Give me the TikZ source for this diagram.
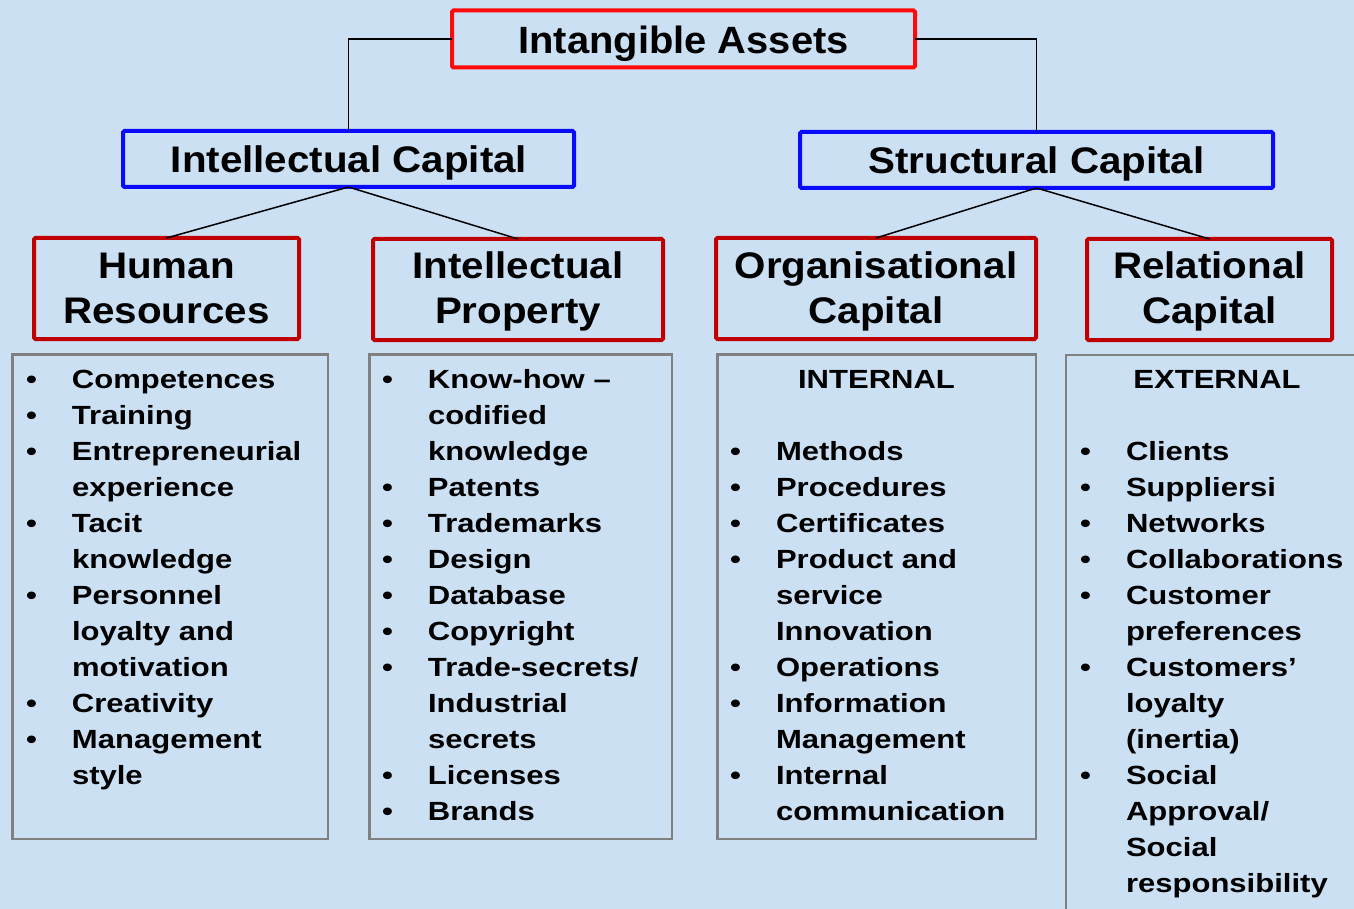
\documentclass[tikz,border=0pt]{standalone}
\usepackage{fontspec}
\setmainfont{Liberation Sans}
\newfontfamily\titlef[FakeStretch=1.05]{Liberation Sans}
\newfontfamily\headf[FakeStretch=1.09]{Liberation Sans}
\newfontfamily\listf[FakeStretch=1.18]{Liberation Sans}
\definecolor{bgblue}{RGB}{204,224,244}
\definecolor{topred}{RGB}{255,10,10}
\definecolor{darkred}{RGB}{192,0,0}
\definecolor{midblue}{RGB}{10,10,255}
\definecolor{boxgray}{RGB}{128,128,128}
\newcommand\bitem[1]{\textbullet&#1\\}
\newcommand\citem[1]{&#1\\}
\tikzset{
  redtop/.style={draw=topred,line width=4pt,rounded corners=1.5pt},
  bluebox/.style={draw=midblue,line width=4pt,rounded corners=1.5pt},
  redbox/.style={draw=darkred,line width=4pt,rounded corners=1.5pt},
  listbox/.style={draw=boxgray,line width=2.5pt},
  conn/.style={draw=black,line width=1.5pt},
  titletext/.style={anchor=base,font=\titlef\bfseries\fontsize{38}{44}\selectfont},
  headtext/.style={anchor=base,font=\headf\bfseries\fontsize{37}{44.5}\selectfont},
  listtext/.style={anchor=base west,font=\listf\bfseries\fontsize{26.3}{36}\selectfont},
  listhead/.style={anchor=base,font=\listf\bfseries\fontsize{26.3}{36}\selectfont},
}
\begin{document}
\begin{tikzpicture}[x=1pt,y=-1pt,every node/.style={inner sep=0pt,outer sep=0pt}]
\useasboundingbox (0,0) rectangle (1354,909);
\fill[bgblue] (0,0) rectangle (1354,909);

% boxes
\node[redtop, minimum width=463, minimum height=57] (ia) at (683.5,39) {};
\node[bluebox, minimum width=451, minimum height=56] (ic) at (348.5,159) {};
\node[bluebox, minimum width=473, minimum height=56] (sc) at (1036.5,160) {};
\node[redbox, minimum width=265, minimum height=101] (hr) at (166.5,288.5) {};
\node[redbox, minimum width=290, minimum height=101] (ip) at (518,289.5) {};
\node[redbox, minimum width=320, minimum height=101] (oc) at (876,288.5) {};
\node[redbox, minimum width=245, minimum height=101] (rc) at (1209.5,289.5) {};

\node[listbox, minimum width=315.5, minimum height=484.5] (hrl) at (170,596.5) {};
\node[listbox, minimum width=302.5, minimum height=484.5] (ipl) at (520.5,596.5) {};
\node[listbox, minimum width=318.5, minimum height=484.5] (ocl) at (876.5,596.5) {};
\begin{scope}
\clip (0,0) rectangle (1354,909);
\node[listbox, anchor=north west, minimum width=330, minimum height=620] (rcl) at (1066,355) {};
\end{scope}

% connectors
\draw[conn] (ia.west) -| (ic.north);
\draw[conn] (ia.east) -| (sc.north);
\draw[conn] (ic.south) -- (hr.north);
\draw[conn] (ic.south) -- (ip.north);
\draw[conn] (sc.south) -- (oc.north);
\draw[conn] (sc.south) -- (rc.north);

% headings
\node[titletext] (iat) at (683.5,53.5) {Intangible Assets};
\node[headtext] (ict) at (349,173) {Intellectual Capital};
\node[headtext] (sct) at (1036.5,174) {Structural Capital};
\node[headtext] (hrt) at (166.5,279) {\begin{tabular}[t]{@{}c@{}}Human\\Resources\end{tabular}};
\node[headtext] (ipt) at (518,279) {\begin{tabular}[t]{@{}c@{}}Intellectual\\Property\end{tabular}};
\node[headtext] (oct) at (876,279) {\begin{tabular}[t]{@{}c@{}}Organisational\\Capital\end{tabular}};
\node[headtext] (rct) at (1209.5,279) {\begin{tabular}[t]{@{}c@{}}Relational\\Capital\end{tabular}};

% lists
\node[listtext] (hrx) at (26,388) {\begin{tabular}[t]{@{}p{46pt}@{}l@{}}
\bitem{Competences}
\bitem{Training}
\bitem{Entrepreneurial}
\citem{experience}
\bitem{Tacit}
\citem{knowledge}
\bitem{Personnel}
\citem{loyalty and}
\citem{motivation}
\bitem{Creativity}
\bitem{Management}
\citem{style}
\end{tabular}};

\node[listtext] (ipx) at (382,388) {\begin{tabular}[t]{@{}p{46pt}@{}l@{}}
\bitem{Know-how –}
\citem{codified}
\citem{knowledge}
\bitem{Patents}
\bitem{Trademarks}
\bitem{Design}
\bitem{Database}
\bitem{Copyright}
\bitem{Trade-secrets/}
\citem{Industrial}
\citem{secrets}
\bitem{Licenses}
\bitem{Brands}
\end{tabular}};

\node[listhead] (och) at (876.5,388) {INTERNAL};
\node[listtext] (ocx) at (730,460) {\begin{tabular}[t]{@{}p{46pt}@{}l@{}}
\bitem{Methods}
\bitem{Procedures}
\bitem{Certificates}
\bitem{Product and}
\citem{service}
\citem{Innovation}
\bitem{Operations}
\bitem{Information}
\citem{Management}
\bitem{Internal}
\citem{communication}
\end{tabular}};

\node[listhead] (rch) at (1217,388) {EXTERNAL};
\node[listtext] (rcx) at (1080,460) {\begin{tabular}[t]{@{}p{46pt}@{}l@{}}
\bitem{Clients}
\bitem{Suppliersi}
\bitem{Networks}
\bitem{Collaborations}
\bitem{Customer}
\citem{preferences}
\bitem{Customers’}
\citem{loyalty}
\citem{(inertia)}
\bitem{Social}
\citem{Approval/}
\citem{Social}
\citem{responsibility}
\end{tabular}};
\end{tikzpicture}
\end{document}
